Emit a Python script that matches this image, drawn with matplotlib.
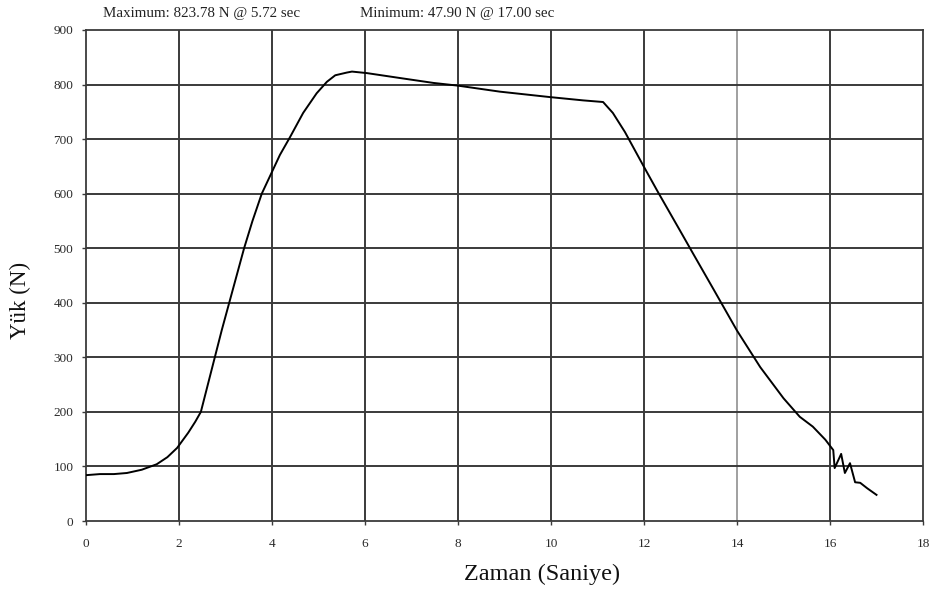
import matplotlib
matplotlib.use("Agg")
import matplotlib.pyplot as plt

# Load-time curve of the test (time in seconds, load in newtons)
time_s = [0.0, 0.3, 0.6, 0.88, 1.2, 1.52, 1.75, 1.96, 2.2, 2.35, 2.47, 2.62, 2.77,
          2.92, 3.08, 3.24, 3.40, 3.58, 3.78, 4.0, 4.17, 4.39, 4.67, 4.96, 5.18,
          5.36, 5.61, 5.72, 6.04, 6.75, 7.47, 8.0, 8.9, 9.98, 10.69, 11.12, 11.33,
          11.59, 12.0, 12.3, 12.77, 13.05, 13.5, 14.0, 14.5, 15.0, 15.35, 15.63,
          15.9, 16.07, 16.1, 16.24, 16.32, 16.43, 16.54, 16.65, 16.8, 17.0]
load_n = [84, 86, 86, 88, 94, 104, 117, 134, 162, 182, 200, 250, 300,
          350, 400, 450, 500, 550, 600, 640, 671, 704, 748, 784, 805,
          817, 822, 823.78, 821, 812, 803, 798, 787, 777, 771, 768, 748,
          713, 649, 603, 533, 491, 424, 349, 282, 225, 191, 173,
          149, 130, 97, 123, 88, 106, 71, 70, 60, 47.9]

x_ticks = [0, 2, 4, 6, 8, 10, 12, 14, 16, 18]
y_ticks = [0, 100, 200, 300, 400, 500, 600, 700, 800, 900]

max_text = "Maximum: 823.78 N @ 5.72 sec"
min_text = "Minimum: 47.90 N @ 17.00 sec"

serif = ["Liberation Serif", "DejaVu Serif"]
plt.rcParams["font.family"] = serif

fig = plt.figure(figsize=(9.37, 5.97), dpi=100)
ax = fig.add_axes([86 / 937, 1 - 521 / 597, (923 - 86) / 937, (521 - 30) / 597])

ax.set_xlim(0, 18)
ax.set_ylim(0, 900)
ax.set_xticks(x_ticks)
ax.set_yticks(y_ticks)

grid_color = "#3a3a3a"
for xv in x_ticks[1:-1]:
    ax.axvline(xv, color="#a0a0a0" if xv == 14 else grid_color, lw=1.4, zorder=1)
for yv in y_ticks[1:-1]:
    ax.axhline(yv, color=grid_color, lw=1.4, zorder=1)

for sp in ax.spines.values():
    sp.set_color(grid_color)
    sp.set_linewidth(1.3)

ax.plot(time_s, load_n, color="black", lw=1.4, zorder=3)

ax.tick_params(axis="both", length=3, width=1, color=grid_color,
               labelsize=9.5, labelcolor="#2a2a2a")
ax.tick_params(axis="x", pad=9)
ax.tick_params(axis="y", pad=6)

ax.set_xlabel("Zaman (Saniye)", fontsize=17.5, color="#111111")
ax.set_ylabel("Yük (N)", fontsize=16.5, color="#111111")
ax.xaxis.set_label_coords((542 - 86) / 837, -(574 - 521) / 491)
ax.yaxis.set_label_coords(-(86 - 20) / 837, (521 - 300) / 491)
ax.xaxis.label.set_va("center")
ax.yaxis.label.set_va("center")

fig.text(103 / 937, 1 - 13 / 597, max_text, fontsize=10.8, color="#222222",
         ha="left", va="center")
fig.text(360 / 937, 1 - 13 / 597, min_text, fontsize=10.8, color="#222222",
         ha="left", va="center")

fig.savefig("out.png", dpi=100)
